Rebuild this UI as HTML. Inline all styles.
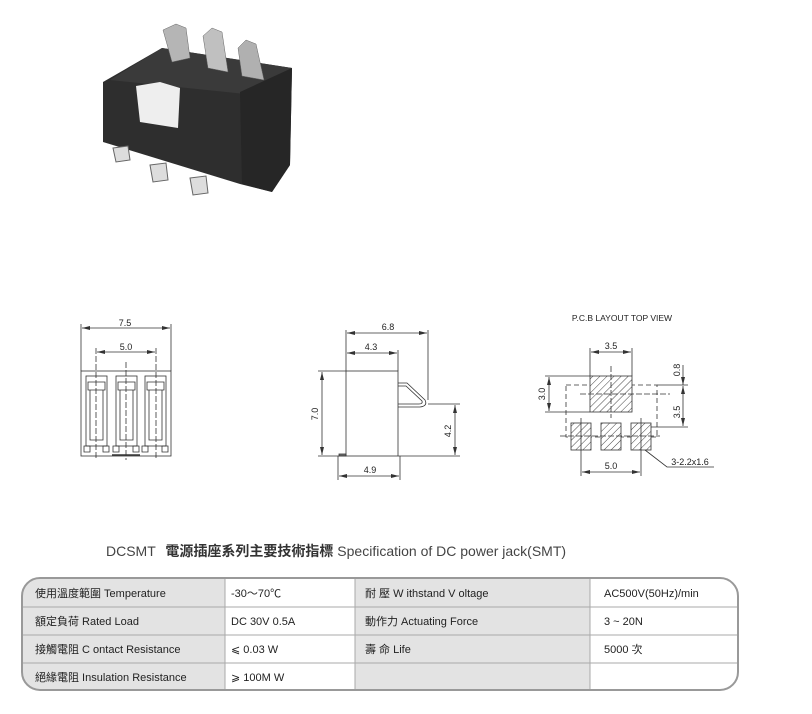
<!DOCTYPE html>
<html><head><meta charset="utf-8"><style>
body{margin:0;background:#fff;width:812px;height:714px;overflow:hidden;font-family:"Liberation Sans","Noto Sans CJK TC",sans-serif;}
svg{position:absolute;left:0;top:0}
</style></head><body>
<svg width="812" height="714" viewBox="0 0 812 714" xmlns="http://www.w3.org/2000/svg" font-family="Liberation Sans, Noto Sans CJK TC, sans-serif">
<defs>
<pattern id="h" width="5" height="5" patternUnits="userSpaceOnUse" patternTransform="rotate(45)"><rect width="5" height="5" fill="#fff"/><line x1="0" y1="0" x2="0" y2="5" stroke="#444" stroke-width="1"/></pattern>
<marker id="a" markerWidth="8" markerHeight="6" refX="8" refY="3" orient="auto-start-reverse" markerUnits="userSpaceOnUse"><path d="M0,1 L8,3 L0,5z" fill="#333"/></marker>
</defs>
<!-- photo -->
<g>
<path d="M103,82 L162,48 L292,68 L290,165 L272,192 L240,184 L103,142 Z" fill="#2e2e2e"/>
<path d="M162,48 L292,68 L255,95 L110,80 Z" fill="#3a3a3a"/>
<path d="M240,92 L292,68 L290,165 L272,192 L242,184 Z" fill="#262626"/>
<path d="M136,86 L160,82 L180,88 L178,128 L140,122 Z" fill="#eee"/>
<path d="M163,30 L176,24 L186,28 L190,58 L172,62 Z" fill="#b5b5b5" stroke="#666" stroke-width="0.5"/>
<path d="M203,36 L212,28 L222,32 L228,72 L208,68 Z" fill="#c0c0c0" stroke="#666" stroke-width="0.5"/>
<path d="M238,48 L246,40 L256,44 L264,80 L242,76 Z" fill="#b0b0b0" stroke="#666" stroke-width="0.5"/>
<path d="M113,148 L128,146 L130,160 L116,162 Z" fill="#ddd" stroke="#666"/>
<path d="M150,165 L166,163 L168,180 L153,182 Z" fill="#ddd" stroke="#666"/>
<path d="M190,178 L206,176 L208,193 L193,195 Z" fill="#ddd" stroke="#666"/>
</g>
<!-- front view -->
<g stroke="#333" fill="none" stroke-width="0.8" font-size="9" >
<line x1="81" y1="324" x2="81" y2="371"/><line x1="171" y1="324" x2="171" y2="371"/>
<line x1="82" y1="328" x2="170" y2="328" marker-start="url(#a)" marker-end="url(#a)"/>
<line x1="96" y1="348" x2="96" y2="460" stroke-dasharray="6,2"/><line x1="126" y1="362" x2="126" y2="460" stroke-dasharray="6,2"/><line x1="156" y1="348" x2="156" y2="460" stroke-dasharray="6,2"/>
<line x1="97" y1="352" x2="155" y2="352" marker-start="url(#a)" marker-end="url(#a)"/>
<rect x="81" y="371" width="90" height="85"/>
<rect x="86" y="376" width="21" height="70"/><rect x="116" y="376" width="21" height="70"/><rect x="145" y="376" width="21" height="70"/>
<path d="M88,382 h17 v8 h-17z M118,382 h17 v8 h-17z M147,382 h17 v8 h-17z"/>
<path d="M90,390 v50 h13 v-50 M120,390 v50 h13 v-50 M149,390 v50 h13 v-50"/>
<path d="M84,446 h6 v6 h-6z M103,446 h6 v6 h-6z M113,446 h6 v6 h-6z M133,446 h6 v6 h-6z M142,446 h6 v6 h-6z M162,446 h6 v6 h-6z"/>
<line x1="112" y1="455" x2="140" y2="455" stroke-width="1.5"/>
</g>
<g font-size="9" fill="#222" text-anchor="middle"><text x="125" y="326">7.5</text><text x="126" y="350">5.0</text></g>
<!-- side view -->
<g stroke="#333" fill="none" stroke-width="0.8">
<line x1="346" y1="330" x2="346" y2="371"/><line x1="428" y1="330" x2="428" y2="400"/><line x1="398" y1="350" x2="398" y2="371"/>
<line x1="347" y1="333" x2="427" y2="333" marker-start="url(#a)" marker-end="url(#a)"/>
<line x1="347" y1="353" x2="397" y2="353" marker-start="url(#a)" marker-end="url(#a)"/>
<rect x="346" y="371" width="52" height="85"/>
<rect x="339" y="454" width="7" height="2" fill="#777"/>
<path d="M398,383 L407,383 L425,400 Q428,406 420,407 L398,407"/>
<path d="M398,386 L406,386 L422,401 Q423,404 419,404 L398,404"/>
<line x1="318" y1="371" x2="346" y2="371"/><line x1="318" y1="456" x2="346" y2="456"/>
<line x1="322" y1="372" x2="322" y2="455" marker-start="url(#a)" marker-end="url(#a)"/>
<line x1="428" y1="404" x2="460" y2="404"/><line x1="398" y1="456" x2="460" y2="456"/>
<line x1="455" y1="405" x2="455" y2="455" marker-start="url(#a)" marker-end="url(#a)"/>
<line x1="338" y1="456" x2="338" y2="480"/><line x1="400" y1="456" x2="400" y2="480"/>
<line x1="339" y1="476" x2="399" y2="476" marker-start="url(#a)" marker-end="url(#a)"/>
</g>
<g font-size="9" fill="#222" text-anchor="middle"><text x="388" y="330">6.8</text><text x="371" y="350">4.3</text><text x="370" y="473">4.9</text>
<text transform="translate(318,414) rotate(-90)">7.0</text><text transform="translate(451,431) rotate(-90)">4.2</text></g>
<!-- PCB -->
<text x="622" y="321" font-size="8.5" text-anchor="middle" fill="#222">P.C.B LAYOUT TOP VIEW</text>
<g stroke="#333" fill="none" stroke-width="0.8">
<rect x="566" y="385" width="91" height="52" stroke-dasharray="5,3"/>
<rect x="590" y="376" width="42" height="36" fill="url(#h)"/>
<rect x="571" y="423" width="20" height="27" fill="url(#h)"/><rect x="601" y="423" width="20" height="27" fill="url(#h)"/><rect x="631" y="423" width="20" height="27" fill="url(#h)"/>
<line x1="611" y1="366" x2="611" y2="418" stroke-dasharray="6,2"/><line x1="580" y1="394" x2="670" y2="394" stroke-dasharray="6,2"/>
<line x1="560" y1="436" x2="660" y2="436" stroke-dasharray="6,2"/>
<line x1="581" y1="418" x2="581" y2="476"/><line x1="641" y1="418" x2="641" y2="476"/>
<line x1="590" y1="348" x2="590" y2="376"/><line x1="632" y1="348" x2="632" y2="376"/>
<line x1="591" y1="352" x2="631" y2="352" marker-start="url(#a)" marker-end="url(#a)"/>
<line x1="545" y1="376" x2="590" y2="376"/><line x1="545" y1="412" x2="590" y2="412"/>
<line x1="549" y1="377" x2="549" y2="411" marker-start="url(#a)" marker-end="url(#a)"/>
<line x1="657" y1="385" x2="688" y2="385"/><line x1="651" y1="427" x2="688" y2="427"/>
<line x1="683" y1="365" x2="683" y2="385" marker-end="url(#a)"/>
<line x1="683" y1="386" x2="683" y2="426" marker-start="url(#a)" marker-end="url(#a)"/>
<line x1="582" y1="472" x2="640" y2="472" marker-start="url(#a)" marker-end="url(#a)"/>
<path d="M645,450 L667,467 L714,467"/>
</g>
<g font-size="9" fill="#222" text-anchor="middle"><text x="611" y="349">3.5</text><text x="611" y="469">5.0</text><text x="690" y="465">3-2.2x1.6</text>
<text transform="translate(545,394) rotate(-90)">3.0</text><text transform="translate(680,370) rotate(-90)">0.8</text><text transform="translate(680,412) rotate(-90)">3.5</text></g>
<!-- title -->
<text x="106" y="556" font-size="14" fill="#444">DCSMT <tspan font-weight="bold" dx="6" fill="#333">電源插座系列主要技術指標</tspan> Specification of DC power jack(SMT)</text>
<!-- table -->
<rect x="225" y="579" width="130" height="111" fill="#fff"/>
<rect x="590" y="579" width="146" height="111" fill="#fff"/>
<path d="M40,578 H225 V690 H40 Q22,690 22,672 V596 Q22,578 40,578Z" fill="#e3e3e3"/>
<rect x="355" y="578" width="235" height="112" fill="#e3e3e3"/>
<g stroke="#aaa" stroke-width="1">
<line x1="22" y1="607" x2="738" y2="607"/><line x1="22" y1="635" x2="738" y2="635"/><line x1="22" y1="663" x2="738" y2="663"/>
<line x1="225" y1="578" x2="225" y2="690"/><line x1="355" y1="578" x2="355" y2="690"/><line x1="590" y1="578" x2="590" y2="690"/>
</g>
<rect x="22" y="578" width="716" height="112" rx="18" fill="none" stroke="#999" stroke-width="2"/>
<g font-size="11" fill="#222">
<text x="35" y="597">使用溫度範圍 Temperature</text>
<text x="35" y="625">額定負荷  Rated Load</text>
<text x="35" y="653">接觸電阻  C ontact Resistance</text>
<text x="35" y="681">絕緣電阻  Insulation Resistance</text>
<text x="231" y="597">-30～70℃</text>
<text x="231" y="625">DC  30V  0.5A</text>
<text x="231" y="653">⩽ 0.03 W</text>
<text x="231" y="681">⩾ 100M W</text>
<text x="365" y="597">耐   壓  W ithstand V oltage</text>
<text x="365" y="625">動作力  Actuating Force</text>
<text x="365" y="653">壽   命  Life</text>
<text x="604" y="597">AC500V(50Hz)/min</text>
<text x="604" y="625">3 ~ 20N</text>
<text x="604" y="653">5000 次</text>
</g>
</svg>
</body></html>
